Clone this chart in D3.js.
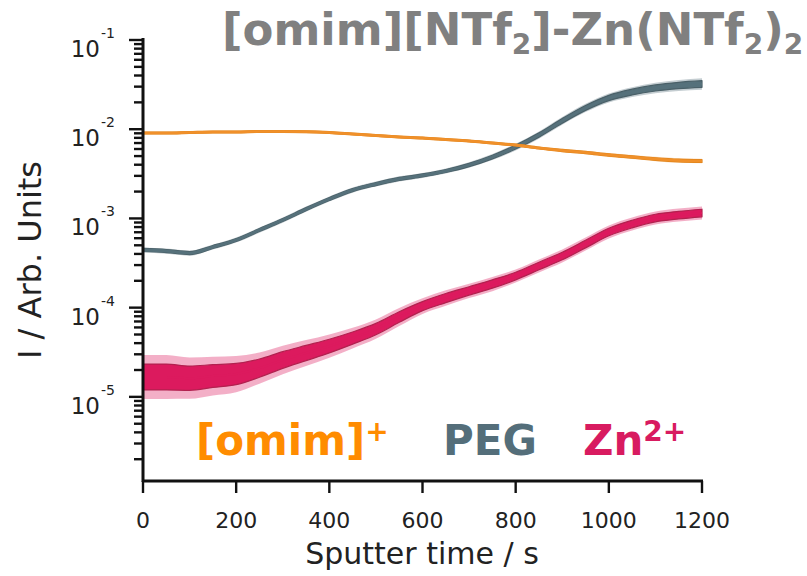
<!DOCTYPE html>
<html>
<head>
<meta charset="utf-8">
<script src="https://cdn.jsdelivr.net/npm/d3@7"></script>
<style>
  body { margin: 0; background: #fff; }
  svg { display: block; }
</style>
</head>
<body>
<script>
var w = 807;
var h = 576;

// sputter time (s)
var times = [0, 50, 100, 150, 200, 250, 300, 350, 400, 450, 500, 550, 600,
             650, 700, 750, 800, 850, 900, 950, 1000, 1050, 1100, 1150, 1200];

// intensities (arb. units)
var omim = [9.06e-3, 9.06e-3, 9.18e-3, 9.30e-3, 9.30e-3, 9.42e-3, 9.42e-3, 9.38e-3, 9.18e-3,
            8.83e-3, 8.49e-3, 8.18e-3, 7.97e-3, 7.67e-3, 7.38e-3, 7.00e-3, 6.65e-3, 6.15e-3,
            5.77e-3, 5.48e-3, 5.14e-3, 4.88e-3, 4.63e-3, 4.46e-3, 4.40e-3];
var peg = [4.43e-4, 4.31e-4, 4.09e-4, 4.78e-4, 5.73e-4, 7.41e-4, 9.59e-4, 1.27e-3, 1.65e-3,
           2.08e-3, 2.43e-3, 2.77e-3, 3.03e-3, 3.40e-3, 3.97e-3, 4.88e-3, 6.31e-3, 8.61e-3,
           1.24e-2, 1.73e-2, 2.24e-2, 2.61e-2, 2.90e-2, 3.09e-2, 3.21e-2];
var zn = [1.67e-5, 1.67e-5, 1.62e-5, 1.71e-5, 1.80e-5, 2.10e-5, 2.59e-5, 3.10e-5, 3.71e-5,
          4.56e-5, 5.75e-5, 7.85e-5, 1.04e-4, 1.28e-4, 1.54e-4, 1.84e-4, 2.26e-4, 2.93e-4,
          3.79e-4, 5.16e-4, 7.04e-4, 8.65e-4, 1.01e-3, 1.09e-3, 1.15e-3];

// half-width of the noise band, in decades
var omimNoise = [0.012, 0.012, 0.012, 0.012, 0.012, 0.012, 0.012, 0.012, 0.012, 0.012, 0.012, 0.012, 0.012,
                 0.012, 0.012, 0.012, 0.012, 0.012, 0.014, 0.014, 0.015, 0.016, 0.017, 0.018, 0.018];
var pegNoise = [0.02, 0.02, 0.02, 0.02, 0.02, 0.02, 0.02, 0.02, 0.02, 0.02, 0.02, 0.02, 0.02,
                0.02, 0.022, 0.024, 0.026, 0.028, 0.03, 0.032, 0.035, 0.038, 0.04, 0.042, 0.044];
var znNoise = [0.17, 0.17, 0.16, 0.15, 0.14, 0.12, 0.11, 0.10, 0.09, 0.08, 0.075, 0.07, 0.06,
               0.06, 0.055, 0.055, 0.05, 0.05, 0.05, 0.05, 0.05, 0.05, 0.05, 0.05, 0.05];

var xTicks = [0, 200, 400, 600, 800, 1000, 1200];
var yMajor = [-1, -2, -3, -4, -5];

var svg = d3.select("body").append("svg")
    .attr("width", w)
    .attr("height", h);

var x = d3.scaleLinear().domain([0, 1200]).range([143, 702]);
var y = d3.scaleLog().domain([1.14e-6, 0.1]).range([481, 40]);

function band(vals, noise, k) {
    var pts = times.map(function(t, i) {
        return { t: t, v: vals[i], s: Math.pow(10, noise[i] * k) };
    });
    return d3.area()
        .x(function(d) { return x(d.t); })
        .y0(function(d) { return y(d.v / d.s); })
        .y1(function(d) { return y(d.v * d.s); })
        .curve(d3.curveMonotoneX)(pts);
}

// one series = faint outer noise band + solid core + center line
function drawSeries(vals, noise, fill, edge, lw) {
    svg.append("path")
        .attr("d", band(vals, noise, 1.45))
        .attr("fill", fill)
        .attr("opacity", 0.35);
    svg.append("path")
        .attr("d", band(vals, noise, 0.85))
        .attr("fill", fill)
        .attr("stroke", edge)
        .attr("stroke-width", 1.2)
        .attr("stroke-linejoin", "round");
    svg.append("path")
        .attr("d", d3.line()
            .x(function(d, i) { return x(times[i]); })
            .y(function(d) { return y(d); })
            .curve(d3.curveMonotoneX)(vals))
        .attr("fill", "none")
        .attr("stroke", fill)
        .attr("stroke-width", lw);
}

drawSeries(zn, znNoise, "#dc1a5e", "#b2214f", 2);
drawSeries(peg, pegNoise, "#56717b", "#4a6068", 2.8);
drawSeries(omim, omimNoise, "#f0902a", "#e0851c", 2.6);

// y axis with log ticks on the left
var yTickVals = y.ticks().filter(function(d) { return d >= 1.14e-6 && d <= 0.1; });
var yAxis = svg.append("g");
yAxis.selectAll("line.tk")
    .data(yTickVals)
    .enter().append("line")
    .attr("class", "tk")
    .attr("x1", function(d) {
        var isMajor = Math.abs(Math.log10(d) - Math.round(Math.log10(d))) < 1e-6;
        return isMajor ? 129 : 134;
    })
    .attr("x2", 143)
    .attr("y1", function(d) { return y(d); })
    .attr("y2", function(d) { return y(d); })
    .attr("stroke", "#111")
    .attr("stroke-width", 2.4);
yAxis.append("line")
    .attr("x1", 143).attr("x2", 143)
    .attr("y1", 38).attr("y2", 482)
    .attr("stroke", "#111")
    .attr("stroke-width", 3);

var yLab = yAxis.selectAll("text.yl")
    .data(yMajor)
    .enter().append("text")
    .attr("class", "yl")
    .attr("font-family", "DejaVu Sans, Verdana, sans-serif")
    .attr("fill", "#222");
yLab.append("tspan")
    .attr("x", 100)
    .attr("y", function(d) { return y(Math.pow(10, d)) + 17; })
    .attr("text-anchor", "end")
    .attr("font-size", 23)
    .text("10");
yLab.append("tspan")
    .attr("x", 101)
    .attr("y", function(d) { return y(Math.pow(10, d)) - 2; })
    .attr("font-size", 14)
    .text(function(d) { return d; });

// x axis
var xAxis = svg.append("g");
xAxis.append("line")
    .attr("x1", 142).attr("x2", 703)
    .attr("y1", 481).attr("y2", 481)
    .attr("stroke", "#111")
    .attr("stroke-width", 3);
xAxis.selectAll("line.xt")
    .data(xTicks)
    .enter().append("line")
    .attr("class", "xt")
    .attr("x1", function(d) { return x(d); })
    .attr("x2", function(d) { return x(d); })
    .attr("y1", 481).attr("y2", 493)
    .attr("stroke", "#111")
    .attr("stroke-width", 2.4);
xAxis.selectAll("text.xl")
    .data(xTicks)
    .enter().append("text")
    .attr("class", "xl")
    .attr("x", function(d) { return x(d); })
    .attr("y", 528)
    .attr("text-anchor", "middle")
    .attr("font-family", "DejaVu Sans, Verdana, sans-serif")
    .attr("font-size", 22)
    .attr("fill", "#222")
    .text(function(d) { return d; });

// axis titles
svg.append("text")
    .attr("x", 422)
    .attr("y", 564)
    .attr("text-anchor", "middle")
    .attr("font-family", "DejaVu Sans, Verdana, sans-serif")
    .attr("font-size", 30)
    .attr("fill", "#222")
    .text("Sputter time / s");
svg.append("text")
    .attr("transform", "translate(41,260) rotate(-90)")
    .attr("text-anchor", "middle")
    .attr("font-family", "DejaVu Sans, Verdana, sans-serif")
    .attr("font-size", 32)
    .attr("fill", "#222")
    .text("I / Arb. Units");

// title
var title = svg.append("text")
    .attr("x", 222)
    .attr("y", 45)
    .attr("font-family", "DejaVu Sans, Verdana, sans-serif")
    .attr("font-weight", "bold")
    .attr("font-size", 45)
    .attr("fill", "#808080");
title.append("tspan").text("[omim][NTf");
title.append("tspan").attr("font-size", 28).attr("dy", 9).text("2");
title.append("tspan").attr("dy", -9).text("]-Zn(NTf");
title.append("tspan").attr("font-size", 28).attr("dy", 9).text("2");
title.append("tspan").attr("dy", -9).text(")");
title.append("tspan").attr("font-size", 28).attr("dy", 9).text("2");

// series labels
var labels = [
    { x: 196, base: "[omim]", sup: "+", color: "#ff8c00" },
    { x: 443, base: "PEG", sup: "", color: "#546e7a" },
    { x: 583, base: "Zn", sup: "2+", color: "#d81b60" }
];
var lab = svg.selectAll("text.lg")
    .data(labels)
    .enter().append("text")
    .attr("class", "lg")
    .attr("x", function(d) { return d.x; })
    .attr("y", 455)
    .attr("font-family", "DejaVu Sans, Verdana, sans-serif")
    .attr("font-weight", "bold")
    .attr("font-size", 42)
    .attr("fill", function(d) { return d.color; });
lab.append("tspan").text(function(d) { return d.base; });
lab.append("tspan")
    .attr("font-size", 28)
    .attr("dy", -14)
    .text(function(d) { return d.sup; });
</script>
</body>
</html>
